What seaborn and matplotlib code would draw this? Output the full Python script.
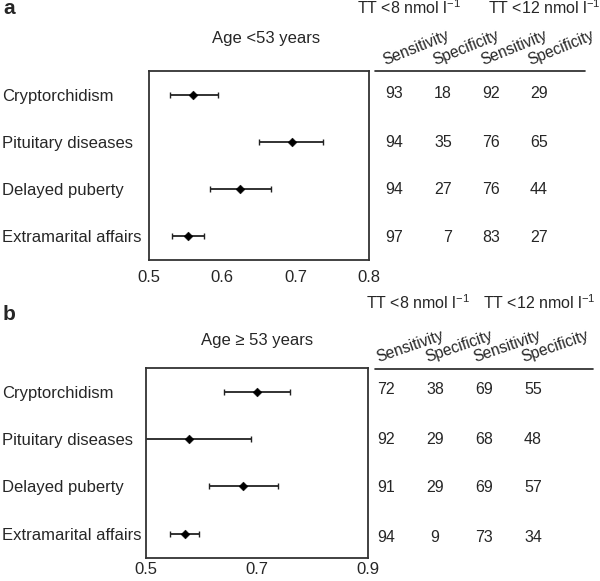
import matplotlib
matplotlib.use("Agg")
import matplotlib.pyplot as plt
import seaborn as sns
import pandas as pd

# ---- data ----
categorias = ["Cryptorchidism", "Pituitary diseases", "Delayed puberty", "Extramarital affairs"]

# panel a: age <53 years (AUC and 95% CI)
auc_a = [0.561, 0.695, 0.625, 0.554]
low_a = [0.529, 0.651, 0.583, 0.532]
high_a = [0.594, 0.737, 0.667, 0.576]

# panel b: age >= 53 years
auc_b = [0.700, 0.578, 0.675, 0.571]
low_b = [0.640, 0.480, 0.614, 0.543]
high_b = [0.760, 0.690, 0.738, 0.596]

# sensitivity / specificity tables
sens8_a = [93, 94, 94, 97]
spec8_a = [18, 35, 27, 7]
sens12_a = [92, 76, 76, 83]
spec12_a = [29, 65, 44, 27]

sens8_b = [72, 92, 91, 94]
spec8_b = [38, 29, 29, 9]
sens12_b = [69, 68, 69, 73]
spec12_b = [55, 48, 57, 34]

cabeceras = ["Sensitivity", "Specificity", "Sensitivity", "Specificity"]

W, H = 600, 581
sns.set_style("white")
plt.rcParams["font.family"] = ["Liberation Sans", "DejaVu Sans"]
FS = 12

fig = plt.figure(figsize=(W / 100, H / 100), dpi=100)


def px(x, y):
    return x / W, 1 - y / H


def panel(rect, auc, low, high, xlim, xticks, minor, pad_px, tick_pad):
    x0, y0, x1, y1 = rect
    ax = fig.add_axes([x0 / W, 1 - y1 / H, (x1 - x0) / W, (y1 - y0) / H])
    df = pd.DataFrame({"cat": categorias, "auc": auc, "low": low, "high": high})
    df["pos"] = range(len(df))
    ax.errorbar(df["auc"], df["pos"],
                xerr=[df["auc"] - df["low"], df["high"] - df["auc"]],
                fmt="none", ecolor="#222222", elinewidth=1.3, capsize=2, capthick=1)
    sns.scatterplot(data=df, x="auc", y="pos", marker="D", s=20, color="black",
                    edgecolor="black", ax=ax, zorder=3, legend=False)
    ax.set_xlim(*xlim)
    ax.set_ylim(3.5, -0.5)
    ax.set_xticks(xticks)
    ax.set_xticklabels([f"{t:.1f}" for t in xticks], fontsize=FS)
    if minor:
        ax.set_xticks(minor, minor=True)
    ax.tick_params(axis="x", which="both", direction="in", length=3, color="#555555", pad=tick_pad)
    ax.set_yticks(range(len(categorias)))
    ax.set_yticklabels(categorias, ha="left", fontsize=FS)
    ax.tick_params(axis="y", length=0, pad=pad_px * 0.72)
    ax.set_xlabel("")
    ax.set_ylabel("")
    for s in ax.spines.values():
        s.set_color("#333333")
        s.set_linewidth(1.3)
    return ax


panel((148.5, 71, 369, 260), auc_a, low_a, high_a, (0.5, 0.8), [0.5, 0.6, 0.7, 0.8], None, 146.5, 7)
panel((146, 368, 367.5, 557.5), auc_b, low_b, high_b, (0.5, 0.9), [0.5, 0.7, 0.9],
      [0.5 + 0.4 / 3, 0.5 + 0.8 / 3], 144, 3.5)

# panel letters and titles
fig.text(*px(3, 8), "a", fontsize=15, fontweight="bold", va="center", ha="left")
fig.text(*px(3, 315), "b", fontsize=15, fontweight="bold", va="center", ha="left")
fig.text(*px(212, 38), "Age <53 years", fontsize=FS, va="center", ha="left")
fig.text(*px(201, 340), "Age \u2265 53 years", fontsize=FS, va="center", ha="left")


def tabla(cols, filas_y, x_cols, ha, head_x, head_y, rot, tt_y, tt_x, linea):
    for j, col in enumerate(cols):
        for i, v in enumerate(col):
            fig.text(*px(x_cols[j], filas_y[i]), str(v), fontsize=FS - 0.5, ha=ha, va="center")
    for j, lab in enumerate(cabeceras):
        fig.text(*px(head_x[j], head_y), lab, fontsize=11.2, rotation=rot,
                 rotation_mode="anchor", ha="left", va="baseline")
    fig.text(*px(tt_x[0], tt_y), "TT <8 nmol l$^{\\mathregular{-1}}$", fontsize=FS - 0.5, ha="left", va="center")
    fig.text(*px(tt_x[1], tt_y), "TT <12 nmol l$^{\\mathregular{-1}}$", fontsize=FS - 0.5, ha="left", va="center")
    (lx0, lx1, ly) = linea
    fig.add_artist(plt.Line2D([lx0 / W, lx1 / W], [1 - ly / H, 1 - ly / H],
                              color="#222222", linewidth=1.2))


tabla([sens8_a, spec8_a, sens12_a, spec12_a], [93, 142, 190, 238],
      [403, 452, 500, 548], "right", [385, 435, 483, 530], 65, 22,
      8, [357, 488], (375, 585, 71))
tabla([sens8_b, spec8_b, sens12_b, spec12_b], [390, 439, 488, 537],
      [386, 435, 484, 533], "center", [378, 427, 475, 523], 362, 19,
      303, [366, 483], (375, 593, 369))

fig.savefig("out.png", dpi=100)
plt.close(fig)
